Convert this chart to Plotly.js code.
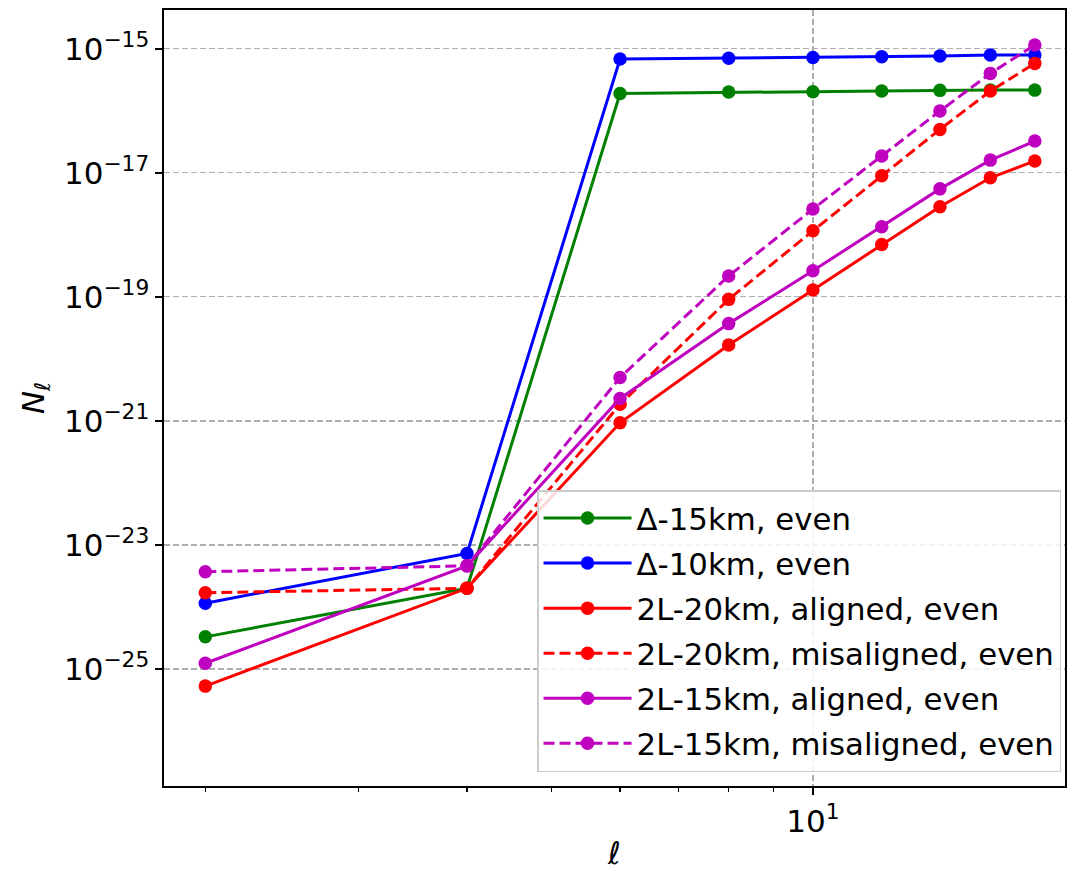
<!DOCTYPE html>
<html>
<head>
<meta charset="utf-8">
<script src="https://cdn.plot.ly/plotly-3.0.1.min.js"></script>
<style>
  html, body { margin: 0; padding: 0; background: #ffffff; }
  #chart { width: 1068px; height: 872px; }
</style>
</head>
<body>
<div id="chart"></div>
<script>
// ---- data ----
const ell = [2, 4, 6, 8, 10, 12, 14, 16, 18];

const delta15Even = [3.3e-25, 2.0e-24, 1.9e-16, 2.0e-16, 2.03e-16, 2.08e-16, 2.13e-16, 2.15e-16, 2.15e-16];
const delta10Even = [1.15e-24, 7.3e-24, 6.8e-16, 7.0e-16, 7.2e-16, 7.4e-16, 7.6e-16, 7.9e-16, 7.9e-16];
const twoL20Aligned = [5.3e-26, 2.0e-24, 9.3e-22, 1.67e-20, 1.29e-19, 7.0e-19, 2.84e-18, 8.3e-18, 1.55e-17];
const twoL20Misaligned = [1.7e-24, 2.0e-24, 1.85e-21, 9.1e-20, 1.16e-18, 8.97e-18, 5.0e-17, 2.08e-16, 5.8e-16];
const twoL15Aligned = [1.24e-25, 4.6e-24, 2.3e-21, 3.7e-20, 2.64e-19, 1.35e-18, 5.5e-18, 1.6e-17, 3.24e-17];
const twoL15Misaligned = [3.7e-24, 4.6e-24, 5.0e-21, 2.17e-19, 2.6e-18, 1.86e-17, 9.9e-17, 4.0e-16, 1.15e-15];

const seriesNames = [
  "Δ-15km, even",
  "Δ-10km, even",
  "2L-20km, aligned, even",
  "2L-20km, misaligned, even",
  "2L-15km, aligned, even",
  "2L-15km, misaligned, even"
];

const yTickVals = [1e-25, 1e-23, 1e-21, 1e-19, 1e-17, 1e-15];
const yTickText = ["10<sup>−25</sup>", "10<sup>−23</sup>", "10<sup>−21</sup>", "10<sup>−19</sup>", "10<sup>−17</sup>", "10<sup>−15</sup>"];
const xTickVals = [10];
const xTickText = ["10<sup>1</sup>"];
const xMinorVals = [2, 3, 4, 5, 6, 7, 8, 9];

// ---- styles ----
const GREEN = "#008000", BLUE = "#0000ff", RED = "#ff0000", MAG = "#bf00bf";
const FONT = "DejaVu Sans, Liberation Sans, sans-serif";
const DASH = "11px,5px";

function mk(y, name, color, dash, idx) {
  return {
    x: ell, y: y, name: name,
    type: "scatter", mode: "lines+markers",
    line: { color: color, width: 3, dash: dash },
    marker: { color: color, size: 13.5 },
    legendgroup: "g" + idx,
    legendrank: idx
  };
}

const data = [
  mk(delta15Even, seriesNames[0], GREEN, "solid", 1),
  mk(delta10Even, seriesNames[1], BLUE, "solid", 2),
  mk(twoL20Aligned, seriesNames[2], RED, "solid", 3),
  mk(twoL20Misaligned, seriesNames[3], RED, DASH, 4),
  mk(twoL15Aligned, seriesNames[4], MAG, "solid", 5),
  mk(twoL15Misaligned, seriesNames[5], MAG, DASH, 6)
];

const layout = {
  width: 1068, height: 872,
  paper_bgcolor: "#ffffff", plot_bgcolor: "#ffffff",
  margin: { l: 164, r: 3, t: 10, b: 86 },
  font: { family: FONT, size: 31, color: "#000000" },
  showlegend: true,
  legend: {
    x: 0.9956, y: 0.018, xanchor: "right", yanchor: "bottom",
    bgcolor: "rgba(255,255,255,0.85)", bordercolor: "#cccccc", borderwidth: 1.5,
    font: { family: FONT, size: 30.8, color: "#000000" },
    tracegroupgap: 2, itemwidth: 88, traceorder: "grouped"
  },
  xaxis: {
    type: "log",
    range: [0.2535, 1.29],
    tickmode: "array", tickvals: xTickVals, ticktext: xTickText,
    ticks: "outside", ticklen: 7, tickwidth: 1.6, tickcolor: "#000000",
    showline: true, linecolor: "#000000", linewidth: 1.6, mirror: true,
    showgrid: true, gridcolor: "#b0b0b0", gridwidth: 1.3, griddash: "6px,3px",
    zeroline: false,
    tickfont: { family: FONT, size: 31 },
    minor: { tickmode: "array", tickvals: xMinorVals, ticks: "outside", ticklen: 4, tickwidth: 1.2, tickcolor: "#000000", showgrid: false },
    title: { text: "<i>ℓ</i>", font: { family: FONT, size: 31 }, standoff: 4 }
  },
  yaxis: {
    type: "log",
    range: [-26.886, -14.376],
    tickmode: "array", tickvals: yTickVals, ticktext: yTickText,
    ticks: "outside", ticklen: 7, tickwidth: 1.6, tickcolor: "#000000",
    showline: true, linecolor: "#000000", linewidth: 1.6, mirror: true,
    showgrid: true, gridcolor: "#b0b0b0", gridwidth: 1.3, griddash: "6px,3px",
    zeroline: false,
    tickfont: { family: FONT, size: 31 },
    title: { text: "<i>N</i><sub>ℓ</sub>", font: { family: FONT, size: 31 }, standoff: 10 }
  }
};

Plotly.newPlot("chart", data, layout, { displayModeBar: false, staticPlot: true });
</script>
</body>
</html>
